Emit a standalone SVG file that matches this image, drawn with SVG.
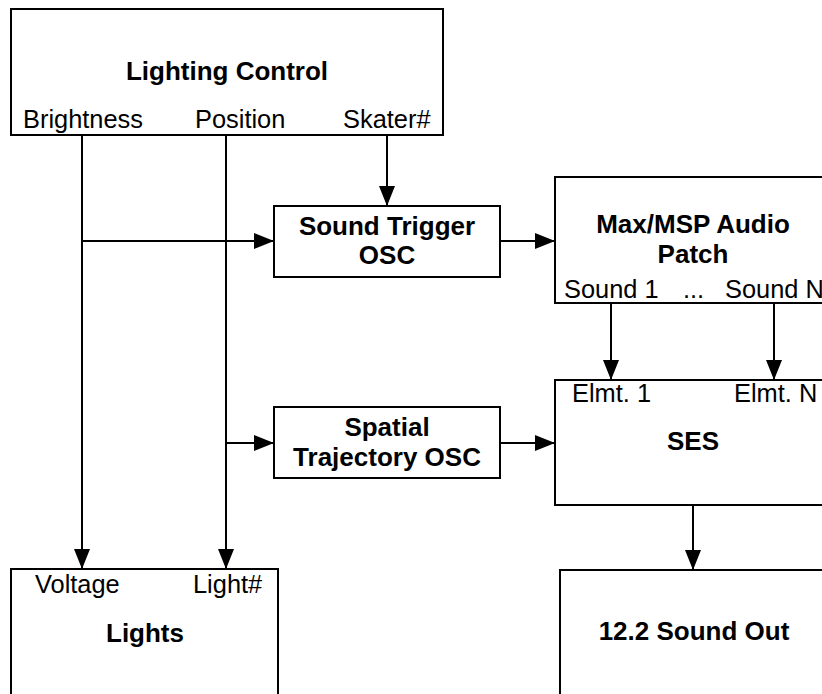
<svg xmlns="http://www.w3.org/2000/svg" width="822" height="694" viewBox="0 0 822 694">
<style>
.box{fill:#fff;stroke:#000;stroke-width:2}
.t{font-family:"Liberation Sans",Arial,sans-serif;font-size:25.4px;fill:#000}
.b{font-weight:bold;text-anchor:middle;font-size:26px}
.c line{stroke:#000;stroke-width:2}
.a{marker-end:url(#arr)}
</style>
<defs>
<marker id="arr" viewBox="0 0 20 16" refX="20" refY="8" markerWidth="20" markerHeight="16" markerUnits="userSpaceOnUse" orient="auto">
<path d="M0,0 L20,8 L0,16 Z" fill="#000"/>
</marker>
</defs>
<rect width="822" height="694" fill="#fff"/>
<g id="lighting-control">
<rect class="box" x="11" y="9" width="432" height="126"/>
<text class="t b" x="227" y="80">Lighting Control</text>
<text class="t" x="23" y="128">Brightness</text>
<text class="t" x="195" y="128">Position</text>
<text class="t" x="343" y="128">Skater#</text>
</g>
<g id="sound-trigger">
<rect class="box" x="274" y="206" width="226" height="71"/>
<text class="t b" x="387" y="235">Sound Trigger</text>
<text class="t b" x="387" y="264">OSC</text>
</g>
<g id="spatial-trajectory">
<rect class="box" x="274" y="407" width="226" height="71"/>
<text class="t b" x="387" y="436">Spatial</text>
<text class="t b" x="387" y="466">Trajectory OSC</text>
</g>
<g id="max-msp">
<rect class="box" x="555" y="177" width="280" height="126"/>
<text class="t b" x="693" y="233">Max/MSP Audio</text>
<text class="t b" x="693" y="263">Patch</text>
<text class="t" x="564" y="298">Sound 1</text>
<text class="t" x="683" y="298">...</text>
<text class="t" x="725" y="298">Sound N</text>
</g>
<g id="ses">
<rect class="box" x="555" y="380" width="280" height="125"/>
<text class="t" x="572" y="402">Elmt. 1</text>
<text class="t" x="734" y="402">Elmt. N</text>
<text class="t b" x="693" y="450">SES</text>
</g>
<g id="lights">
<rect class="box" x="11" y="569" width="267" height="140"/>
<text class="t" x="35" y="593">Voltage</text>
<text class="t" x="193" y="593">Light#</text>
<text class="t b" x="145" y="642">Lights</text>
</g>
<g id="sound-out">
<rect class="box" x="560" y="570" width="275" height="140"/>
<text class="t b" x="694" y="640">12.2 Sound Out</text>
</g>
<g id="connectors" class="c">
<line class="a" x1="82" y1="135" x2="82" y2="569"/>
<line class="a" x1="226" y1="135" x2="226" y2="569"/>
<line class="a" x1="387" y1="135" x2="387" y2="206"/>
<line class="a" x1="82" y1="241" x2="274" y2="241"/>
<line class="a" x1="226" y1="443" x2="274" y2="443"/>
<line class="a" x1="500" y1="241" x2="555" y2="241"/>
<line class="a" x1="500" y1="443" x2="555" y2="443"/>
<line class="a" x1="611" y1="303" x2="611" y2="380"/>
<line class="a" x1="774" y1="303" x2="774" y2="380"/>
<line class="a" x1="693" y1="505" x2="693" y2="570"/>
</g>
</svg>
